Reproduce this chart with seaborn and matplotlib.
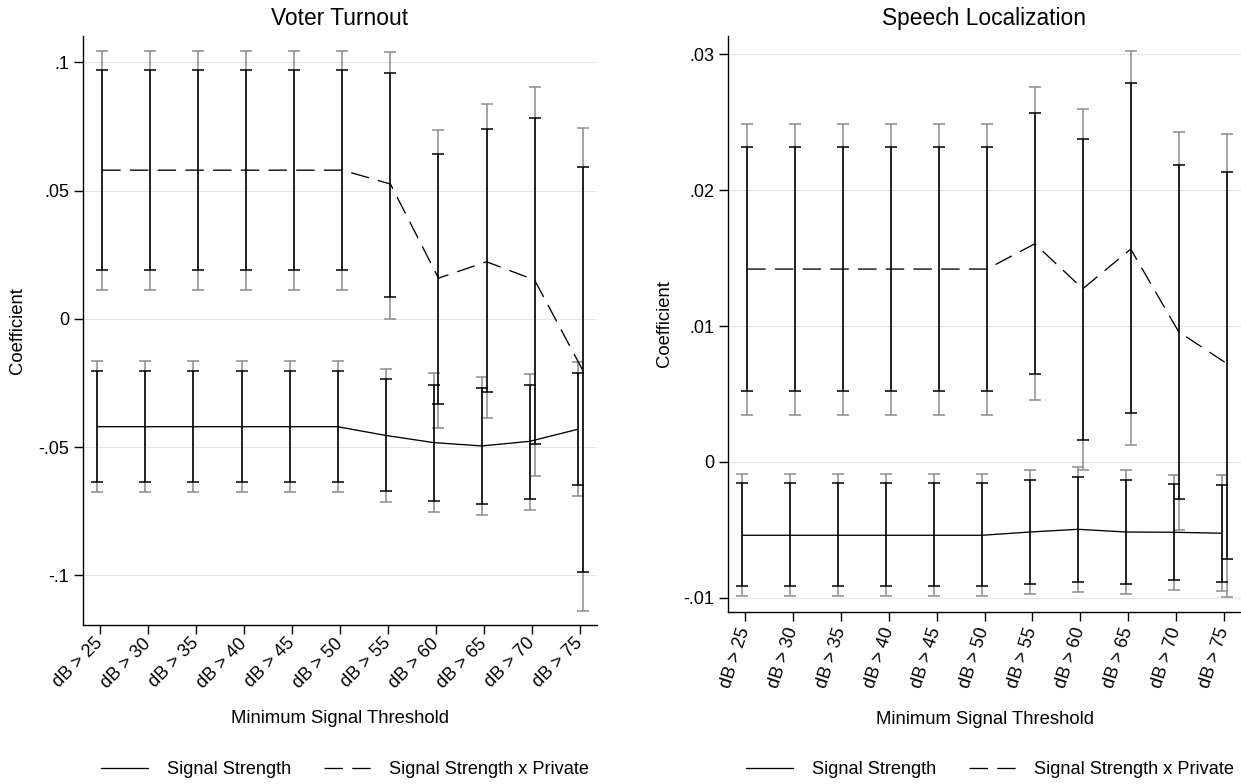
import numpy as np
import pandas as pd
import matplotlib
matplotlib.use("Agg")
import matplotlib.pyplot as plt
from matplotlib.lines import Line2D
import seaborn as sns

# ---------------- data ----------------
categories = ["dB > 25", "dB > 30", "dB > 35", "dB > 40", "dB > 45", "dB > 50",
              "dB > 55", "dB > 60", "dB > 65", "dB > 70", "dB > 75"]
series_names = ["Signal Strength", "Signal Strength x Private"]

# Voter Turnout
vt_ss_coef = [-0.0420, -0.0420, -0.0420, -0.0420, -0.0420, -0.0420, -0.0454, -0.0482, -0.0495, -0.0477, -0.0430]
vt_ss_lo90 = [-0.0634, -0.0634, -0.0634, -0.0634, -0.0634, -0.0634, -0.0672, -0.0708, -0.0721, -0.0700, -0.0648]
vt_ss_hi90 = [-0.0204, -0.0204, -0.0204, -0.0204, -0.0204, -0.0204, -0.0236, -0.0257, -0.0269, -0.0258, -0.0209]
vt_ss_lo95 = [-0.0674, -0.0674, -0.0674, -0.0674, -0.0674, -0.0674, -0.0713, -0.0752, -0.0765, -0.0744, -0.0692]
vt_ss_hi95 = [-0.0164, -0.0164, -0.0164, -0.0164, -0.0164, -0.0164, -0.0194, -0.0212, -0.0225, -0.0214, -0.0166]

vt_ssp_coef = [0.0580, 0.0580, 0.0580, 0.0580, 0.0580, 0.0580, 0.0526, 0.0159, 0.0223, 0.0152, -0.0199]
vt_ssp_lo90 = [0.0191, 0.0191, 0.0191, 0.0191, 0.0191, 0.0191, 0.0085, -0.0330, -0.0286, -0.0487, -0.0985]
vt_ssp_hi90 = [0.0970, 0.0970, 0.0970, 0.0970, 0.0970, 0.0970, 0.0959, 0.0642, 0.0739, 0.0782, 0.0594]
vt_ssp_lo95 = [0.0114, 0.0114, 0.0114, 0.0114, 0.0114, 0.0114, -0.0001, -0.0424, -0.0386, -0.0611, -0.1137]
vt_ssp_hi95 = [0.1046, 0.1046, 0.1046, 0.1046, 0.1046, 0.1046, 0.1042, 0.0737, 0.0839, 0.0905, 0.0746]

# Speech Localization
sl_ss_coef = [-0.00540, -0.00540, -0.00540, -0.00540, -0.00540, -0.00540, -0.00516, -0.00496, -0.00516, -0.00518, -0.00525]
sl_ss_lo90 = [-0.00916, -0.00916, -0.00916, -0.00916, -0.00916, -0.00916, -0.00899, -0.00884, -0.00901, -0.00871, -0.00884]
sl_ss_hi90 = [-0.00157, -0.00157, -0.00157, -0.00157, -0.00157, -0.00157, -0.00135, -0.00110, -0.00133, -0.00162, -0.00167]
sl_ss_lo95 = [-0.00989, -0.00989, -0.00989, -0.00989, -0.00989, -0.00989, -0.00975, -0.00958, -0.00975, -0.00943, -0.00952]
sl_ss_hi95 = [-0.00086, -0.00086, -0.00086, -0.00086, -0.00086, -0.00086, -0.00061, -0.00037, -0.00056, -0.00093, -0.00096]

sl_ssp_coef = [0.01420, 0.01420, 0.01420, 0.01420, 0.01420, 0.01420, 0.01606, 0.01275, 0.01567, 0.00958, 0.00725]
sl_ssp_lo90 = [0.00521, 0.00521, 0.00521, 0.00521, 0.00521, 0.00521, 0.00646, 0.00160, 0.00361, -0.00270, -0.00717]
sl_ssp_hi90 = [0.02318, 0.02318, 0.02318, 0.02318, 0.02318, 0.02318, 0.02571, 0.02380, 0.02792, 0.02188, 0.02136]
sl_ssp_lo95 = [0.00344, 0.00344, 0.00344, 0.00344, 0.00344, 0.00344, 0.00459, -0.00061, 0.00125, -0.00503, -0.00994]
sl_ssp_hi95 = [0.02490, 0.02490, 0.02490, 0.02490, 0.02490, 0.02490, 0.02758, 0.02596, 0.03028, 0.02429, 0.02414]

vt_yticks = [-0.1, -0.05, 0.0, 0.05, 0.1]
vt_yticklabels = ["-.1", "-.05", "0", ".05", ".1"]
sl_yticks = [-0.01, 0.0, 0.01, 0.02, 0.03]
sl_yticklabels = ["-.01", "0", ".01", ".02", ".03"]

# ---------------- style ----------------
sns.set_theme(style="white")
plt.rcParams["font.family"] = ["Liberation Sans", "DejaVu Sans"]
plt.rcParams.update({"text.color": "black", "axes.labelcolor": "black",
                     "xtick.color": "black", "ytick.color": "black",
                     "axes.titlecolor": "black"})

GRAY = "#8c8c8c"
OFFSETS = {"Signal Strength": -0.05, "Signal Strength x Private": 0.05}
DASHES = {"Signal Strength": "", "Signal Strength x Private": (14, 7)}


def build_frame(ss, ssp):
    rows = []
    for name, vals in zip(series_names, (ss, ssp)):
        coef, lo90, hi90, lo95, hi95 = vals
        for i, cat in enumerate(categories):
            rows.append(dict(series=name, cat=cat, x=i + 1 + OFFSETS[name],
                             coef=coef[i], lo90=lo90[i], hi90=hi90[i],
                             lo95=lo95[i], hi95=hi95[i]))
    return pd.DataFrame(rows)


def draw_panel(ax, df, title, yticks, yticklabels, ylim, rot, xlab_y, ylab_x):
    for name in series_names:
        d = df[df.series == name]
        ax.errorbar(d.x, d.coef, yerr=[d.coef - d.lo95, d.hi95 - d.coef], fmt="none",
                    ecolor=GRAY, elinewidth=1.1, capsize=4.0, capthick=1.1, zorder=2)
    for name in series_names:
        d = df[df.series == name]
        ax.errorbar(d.x, d.coef, yerr=[d.coef - d.lo90, d.hi90 - d.coef], fmt="none",
                    ecolor="black", elinewidth=1.1, capsize=4.0, capthick=1.1, zorder=3)
    sns.lineplot(data=df, x="x", y="coef", style="series", dashes=DASHES,
                 color="black", linewidth=0.95, legend=False, ax=ax, zorder=4,
                 sort=True, estimator=None)

    ax.set_xlim(0.65, 11.35)
    ax.set_ylim(*ylim)
    ax.set_xticks(range(1, len(categories) + 1))
    ax.set_xticklabels(categories, rotation=rot, ha="right", va="center",
                       rotation_mode="anchor", fontsize=13)
    ax.set_yticks(yticks)
    ax.set_yticklabels(yticklabels, fontsize=13)
    ax.tick_params(axis="both", direction="out", length=6.5, width=1.0, color="black",
                   labelcolor="black", bottom=True, left=True, pad=3.6)
    ax.tick_params(axis="x", pad=5)
    ax.grid(axis="y", color="#e6e6e6", linewidth=0.8)
    ax.grid(axis="x", visible=False)
    ax.set_axisbelow(True)
    for s in ("top", "right"):
        ax.spines[s].set_visible(False)
    for s in ("left", "bottom"):
        ax.spines[s].set_color("black")
        ax.spines[s].set_linewidth(1.0)
    ax.set_title(title, fontsize=16.4, pad=8, color="black")
    ax.set_ylabel("Coefficient", fontsize=13.3, color="black")
    ax.set_xlabel("Minimum Signal Threshold", fontsize=13.3, color="black")
    ax.yaxis.set_label_coords(ylab_x, 0.5)
    ax.xaxis.set_label_coords(0.5, xlab_y)


fig = plt.figure(figsize=(12.41, 7.84), dpi=100)
W, H = 1241.0, 784.0
ax1 = fig.add_axes([83 / W, 1 - 625 / H, (597 - 83) / W, (625 - 36) / H])
ax2 = fig.add_axes([728 / W, 1 - 612 / H, (1241 - 728) / W, (612 - 36) / H])

df_vt = build_frame((vt_ss_coef, vt_ss_lo90, vt_ss_hi90, vt_ss_lo95, vt_ss_hi95),
                    (vt_ssp_coef, vt_ssp_lo90, vt_ssp_hi90, vt_ssp_lo95, vt_ssp_hi95))
df_sl = build_frame((sl_ss_coef, sl_ss_lo90, sl_ss_hi90, sl_ss_lo95, sl_ss_hi95),
                    (sl_ssp_coef, sl_ssp_lo90, sl_ssp_hi90, sl_ssp_lo95, sl_ssp_hi95))

draw_panel(ax1, df_vt, "Voter Turnout", vt_yticks, vt_yticklabels,
           (-0.1193, 0.1103), 45, -0.145, -0.111)
draw_panel(ax2, df_sl, "Speech Localization", sl_yticks, sl_yticklabels,
           (-0.01105, 0.03136), 72, -0.172, -0.108)

handles = [Line2D([], [], color="black", linewidth=0.95, linestyle="-"),
           Line2D([], [], color="black", linewidth=0.95, dashes=(14, 7))]
for cx in (345 / W, 990 / W):
    fig.legend(handles, series_names, loc="center", bbox_to_anchor=(cx, 1 - 770 / H),
               ncol=2, frameon=False, fontsize=13.1, handlelength=2.6,
               handletextpad=1.0, columnspacing=1.8, labelcolor="black")

fig.savefig("out.png", dpi=100)
